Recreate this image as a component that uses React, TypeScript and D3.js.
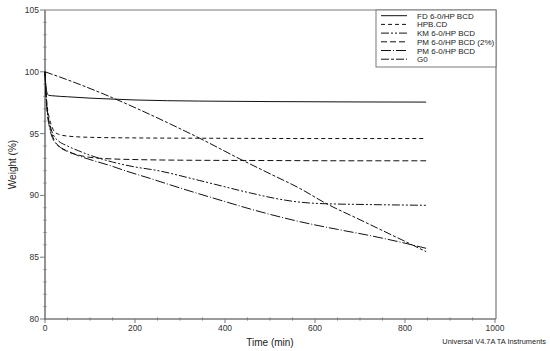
import React, { useEffect, useRef } from 'react';
import * as d3 from 'd3';

// weight loss curves (time in min, weight in %)
const fdTime = [0, 1, 3, 5, 8, 20, 50, 100, 131, 200, 344, 500, 700, 847];
const fdWeight = [100, 99.3, 98.6, 98.25, 98.1, 98.05, 97.98, 97.87, 97.82, 97.72, 97.63, 97.59, 97.56, 97.55];

const hpbTime = [0, 2, 5, 10, 15, 20, 30, 50, 100, 200, 400, 600, 847];
const hpbWeight = [100, 98.5, 97.2, 96.2, 95.6, 95.2, 94.95, 94.8, 94.7, 94.65, 94.62, 94.6, 94.6];

const kmTime = [0, 2, 5, 10, 15, 20, 30, 50, 75, 100, 150, 200, 244, 344, 456, 520, 567, 620, 700, 847];
const kmWeight = [100, 98.4, 97.0, 95.9, 95.2, 94.8, 94.4, 94.0, 93.6, 93.25, 92.7, 92.3, 92.05, 91.2, 90.2, 89.7, 89.45, 89.33, 89.27, 89.2];

const pm2Time = [0, 2, 5, 10, 15, 20, 30, 50, 75, 100, 150, 200, 300, 500, 700, 847];
const pm2Weight = [100, 98.3, 96.9, 95.7, 95.0, 94.5, 94.0, 93.55, 93.25, 93.08, 92.95, 92.9, 92.85, 92.82, 92.8, 92.8];

const pmTime = [0, 2, 5, 10, 15, 20, 30, 50, 75, 100, 150, 173, 233, 300, 400, 456, 567, 650, 715, 780, 847];
const pmWeight = [100, 98.2, 96.7, 95.5, 94.8, 94.4, 94.0, 93.6, 93.2, 92.9, 92.35, 92.06, 91.38, 90.6, 89.5, 88.9, 87.87, 87.25, 86.8, 86.3, 85.72];

const g0Time = [0, 50, 100, 150, 200, 300, 344, 433, 500, 567, 622, 700, 800, 847];
const g0Weight = [100, 99.35, 98.65, 97.9, 97.1, 95.4, 94.62, 92.95, 91.75, 90.55, 89.4, 88.03, 86.28, 85.45];

const seriesNames = ['FD 6-0/HP BCD', 'HPB.CD', 'KM 6-0/HP BCD', 'PM 6-0/HP BCD (2%)', 'PM 6-0/HP BCD', 'G0'];
const seriesTimes = [fdTime, hpbTime, kmTime, pm2Time, pmTime, g0Time];
const seriesWeights = [fdWeight, hpbWeight, kmWeight, pm2Weight, pmWeight, g0Weight];
const seriesDash = ['', '4,3', '8,2,2,2,2,2', '6,3', '10,2,1,2', '8,2,3,2'];

const xMajor = [0, 200, 400, 600, 800, 1000];
const yMajor = [80, 85, 90, 95, 100, 105];

const W = 550;
const H = 351;
const AXIS = '#7a7a7a';
const TXT = '#333';
const FONT = 'Liberation Sans, Arial, sans-serif';

function drawChart(el: SVGSVGElement) {
  const svg = d3.select(el);
  svg.selectAll('*').remove();

  const x = d3.scaleLinear().domain([0, 1000]).range([45, 495]);
  const y = d3.scaleLinear().domain([80, 105]).range([319, 10]);

  // frame (top + right)
  svg.append('path')
    .attr('d', `M${x(0)},${y(105)}H${x(1000) + 1}V${y(80)}`)
    .attr('fill', 'none').attr('stroke', AXIS).attr('stroke-width', 1.2);

  // x axis
  const gx = svg.append('g');
  gx.append('line').attr('x1', x(0) - 1).attr('x2', x(1000) + 1).attr('y1', y(80)).attr('y2', y(80))
    .attr('stroke', AXIS).attr('stroke-width', 1.6);
  gx.selectAll('.minor').data(d3.range(50, 1000, 50).filter(v => v % 200 !== 0)).enter()
    .append('line').attr('x1', d => x(d)).attr('x2', d => x(d)).attr('y1', y(80) - 1.5).attr('y2', y(80) + 1.5)
    .attr('stroke', AXIS);
  gx.selectAll('.major').data(xMajor).enter()
    .append('line').attr('x1', d => x(d)).attr('x2', d => x(d)).attr('y1', y(80)).attr('y2', y(80) + 4)
    .attr('stroke', AXIS);
  gx.selectAll('text').data(xMajor).enter()
    .append('text').attr('x', d => x(d)).attr('y', y(80) + 12)
    .attr('text-anchor', 'middle').attr('font-size', 8.5).attr('font-family', FONT).attr('fill', TXT)
    .text(d => d);

  // y axis
  const gy = svg.append('g');
  gy.append('line').attr('x1', x(0)).attr('x2', x(0)).attr('y1', y(105)).attr('y2', y(80) + 1)
    .attr('stroke', AXIS).attr('stroke-width', 1.6);
  gy.selectAll('.minor').data(d3.range(81, 105, 1).filter(v => v % 5 !== 0)).enter()
    .append('line').attr('x1', x(0) - 1.5).attr('x2', x(0) + 1.5).attr('y1', d => y(d)).attr('y2', d => y(d))
    .attr('stroke', AXIS);
  gy.selectAll('.major').data(yMajor).enter()
    .append('line').attr('x1', x(0) - 5).attr('x2', x(0)).attr('y1', d => y(d)).attr('y2', d => y(d))
    .attr('stroke', AXIS);
  gy.selectAll('text').data(yMajor).enter()
    .append('text').attr('x', x(0) - 6).attr('y', d => y(d) + 3)
    .attr('text-anchor', 'end').attr('font-size', 8.5).attr('font-family', FONT).attr('fill', TXT)
    .text(d => d);

  svg.append('text').attr('x', (x(0) + x(1000)) / 2).attr('y', 346)
    .attr('text-anchor', 'middle').attr('font-size', 10).attr('font-family', FONT).attr('fill', '#222')
    .text('Time (min)');
  svg.append('text').attr('transform', `translate(16,${(y(80) + y(105)) / 2}) rotate(-90)`)
    .attr('text-anchor', 'middle').attr('font-size', 10).attr('font-family', FONT).attr('fill', '#222')
    .text('Weight (%)');
  svg.append('text').attr('x', 546).attr('y', 344)
    .attr('text-anchor', 'end').attr('font-size', 7.4).attr('font-family', FONT).attr('fill', '#222')
    .text('Universal V4.7A TA Instruments');

  // curves
  const line = d3.line<[number, number]>()
    .x(d => x(d[0]))
    .y(d => y(d[1]))
    .curve(d3.curveMonotoneX);

  seriesNames.forEach((name, i) => {
    const pts = seriesTimes[i].map((t, j) => [t, seriesWeights[i][j]] as [number, number]);
    svg.append('path')
      .attr('d', line(pts))
      .attr('fill', 'none')
      .attr('stroke', '#111')
      .attr('stroke-width', 1)
      .attr('stroke-dasharray', seriesDash[i] || null);
  });

  // legend
  const lg = svg.append('g');
  lg.append('rect').attr('x', 376).attr('y', y(105)).attr('width', x(1000) + 1 - 376).attr('height', 57)
    .attr('fill', '#fff').attr('stroke', AXIS).attr('stroke-width', 1);
  seriesNames.forEach((name, i) => {
    const ly = 15.7 + i * 8.7;
    lg.append('line').attr('x1', 381).attr('x2', 407).attr('y1', ly).attr('y2', ly)
      .attr('stroke', '#111').attr('stroke-width', 1)
      .attr('stroke-dasharray', seriesDash[i] || null);
    lg.append('text').attr('x', 417).attr('y', ly + 3)
      .attr('font-size', 8).attr('font-family', FONT).attr('fill', '#222')
      .text(name);
  });
}

export default function App() {
  const ref = useRef<SVGSVGElement>(null);
  useEffect(() => {
    if (ref.current) drawChart(ref.current);
  }, []);
  return (
    <svg ref={ref} width={W} height={H}
      style={{ position: 'absolute', left: 0, top: 0, background: '#fff' }} />
  );
}
